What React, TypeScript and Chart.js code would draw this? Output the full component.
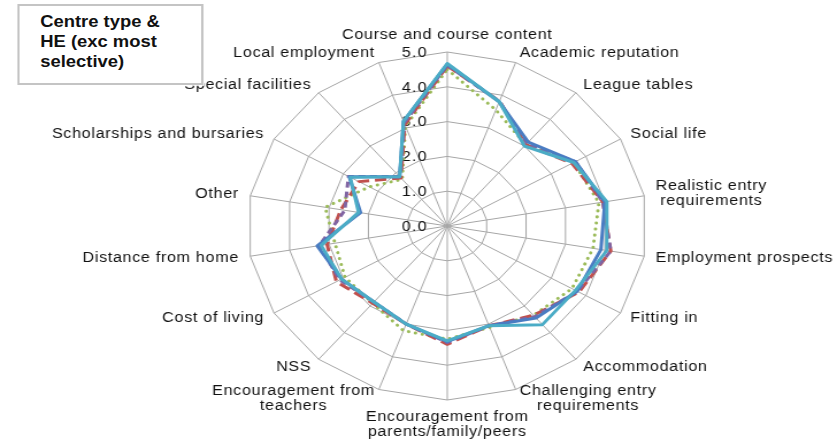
import React, { useEffect, useRef } from "react";
import { Chart, registerables } from "chart.js";

Chart.register(...registerables);

// ---- data ----
const categories: (string | string[])[] = [
  "Course and course content",
  "Academic reputation",
  "League tables",
  "Social life",
  ["Realistic entry", "requirements"],
  "Employment prospects",
  "Fitting in",
  "Accommodation",
  ["Challenging entry", "requirements"],
  ["Encouragement from", "parents/family/peers"],
  ["Encouragement from", "teachers"],
  "NSS",
  "Cost of living",
  "Distance from home",
  "Other",
  "Scholarships and bursaries",
  "Special facilities",
  "Local employment",
];

const seriesBlue = [4.65, 3.8, 3.15, 3.7, 4.0, 3.9, 3.75, 3.45, 3.05, 3.32, 3.0, 2.85, 3.05, 3.3, 2.2, 2.83, 1.85, 3.2];
const seriesRed = [4.6, 3.82, 3.05, 3.6, 3.95, 4.15, 3.8, 3.35, 3.05, 3.4, 3.0, 2.9, 3.2, 3.05, 2.7, 2.55, 1.8, 3.1];
const seriesGreen = [4.5, 3.55, 3.05, 3.65, 3.85, 3.7, 3.6, 3.35, 3.1, 3.25, 3.2, 2.9, 2.95, 2.85, 3.1, 2.25, 1.75, 3.05];
const seriesPurple = [4.62, 3.8, 3.1, 3.7, 3.95, 4.15, 3.75, 3.4, 3.05, 3.35, 3.0, 2.85, 3.1, 3.25, 2.6, 2.85, 1.85, 3.15];
const seriesCyan = [4.67, 3.8, 3.0, 3.65, 4.05, 4.05, 3.7, 3.7, 3.05, 3.3, 3.0, 2.85, 3.05, 3.2, 2.25, 2.8, 1.85, 3.2];

const tickValues = [0, 1, 2, 3, 4, 5];
const tickLabels = ["0.0", "1.0", "2.0", "3.0", "4.0", "5.0"];

const boxTitle = ["Centre type &", "HE (exc most", "selective)"];

// ---- layout ----
const INNER_W = 728;
const SX = 837 / INNER_W;
const FONT = '"Liberation Sans", Arial, sans-serif';

const textPlugin = {
  id: "radarText",
  beforeDatasetsDraw(chart: any) {
    const scale = chart.scales.r;
    const ctx = chart.ctx as CanvasRenderingContext2D;
    ctx.save();
    ctx.font = `14px ${FONT}`;
    ctx.fillStyle = "#111";
    ctx.textAlign = "right";
    ctx.textBaseline = "middle";
    (ctx as any).letterSpacing = "1px";
    tickValues.forEach((v, i) => {
      const p = scale.getPointPositionForValue(0, v);
      ctx.fillText(tickLabels[i], scale.xCenter - 17, p.y + 1);
    });
    ctx.restore();
  },
  afterDatasetsDraw(chart: any) {
    const scale = chart.scales.r;
    const ctx = chart.ctx as CanvasRenderingContext2D;
    ctx.save();
    ctx.font = `14px ${FONT}`;
    (ctx as any).letterSpacing = "0.6px";
    ctx.fillStyle = "#111";
    ctx.textAlign = "center";
    ctx.textBaseline = "middle";
    const R = scale.drawingArea + 10;
    const lh = 15;
    categories.forEach((lab, i) => {
      const lines = Array.isArray(lab) ? lab : [lab];
      const pos = scale.getPointPosition(i, R);
      let deg = (scale.getIndexAngle(i) * 180) / Math.PI;
      deg = ((deg % 360) + 360) % 360;
      const maxW = Math.max(...lines.map((l) => ctx.measureText(l).width));
      const isTop = deg < 1 || deg > 359;
      const isBottom = Math.abs(deg - 180) < 1;
      let cx = pos.x;
      if (!isTop && !isBottom) cx = deg < 180 ? pos.x + maxW / 2 : pos.x - maxW / 2;
      let firstY: number;
      if (isTop) firstY = pos.y - 7 - (lines.length - 1) * lh;
      else if (isBottom) firstY = pos.y + 7.5;
      else firstY = pos.y - ((lines.length - 1) * lh) / 2;
      lines.forEach((l, k) => ctx.fillText(l, cx, firstY + k * lh));
    });
    ctx.restore();
  },
};

export default function App() {
  const ref = useRef<HTMLCanvasElement>(null);

  useEffect(() => {
    const common = {
      fill: false,
      pointRadius: 0,
      pointHoverRadius: 0,
      tension: 0,
      borderJoinStyle: "round" as const,
    };
    const chart = new Chart(ref.current as HTMLCanvasElement, {
      type: "radar",
      data: {
        labels: categories as any,
        datasets: [
          { ...common, label: "Series 5", data: seriesCyan, borderColor: "#4BACC6", borderWidth: 3 },
          { ...common, label: "Series 1", data: seriesBlue, borderColor: "#4A7CC2", borderWidth: 3 },
          { ...common, label: "Series 4", data: seriesPurple, borderColor: "#8064A2", borderWidth: 3, borderDash: [6, 4] },
          { ...common, label: "Series 2", data: seriesRed, borderColor: "#C0504D", borderWidth: 3, borderDash: [10, 5] },
          { ...common, label: "Series 3", data: seriesGreen, borderColor: "#9BBB59", borderWidth: 3, borderDash: [0.1, 6], borderCapStyle: "round" },
        ] as any,
      },
      options: {
        animation: false,
        responsive: true,
        maintainAspectRatio: false,
        layout: { padding: { top: 52, bottom: 42, left: 200, right: 149 } },
        plugins: { legend: { display: false }, tooltip: { enabled: false } },
        scales: {
          r: {
            min: 0,
            max: 5,
            ticks: { stepSize: 1, display: false },
            pointLabels: { display: false },
            grid: { circular: false, color: "#a6a6a6", lineWidth: 1 },
            angleLines: { display: true, color: "#a6a6a6", lineWidth: 1 },
          },
        },
      },
      plugins: [textPlugin],
    });
    return () => chart.destroy();
  }, []);

  return (
    <div style={{ position: "absolute", left: 0, top: 0, width: 837, height: 442, overflow: "hidden", background: "#fff" }}>
      <div
        style={{
          position: "absolute",
          left: 0,
          top: 0,
          width: INNER_W,
          height: 442,
          transform: `scaleX(${SX})`,
          transformOrigin: "0 0",
        }}
      >
        <canvas ref={ref} />
        <div
          style={{
            position: "absolute",
            left: 15,
            top: 4,
            width: 162,
            height: 81,
            boxSizing: "border-box",
            border: "2px solid #c4c4c4",
            background: "#fff",
            padding: "6px 0 0 18px",
            font: `bold 16px ${FONT}`,
            lineHeight: "20px",
            color: "#111",
          }}
        >
          {boxTitle.map((t, i) => (
            <div key={i} style={{ whiteSpace: "nowrap" }}>{t}</div>
          ))}
        </div>
      </div>
    </div>
  );
}
